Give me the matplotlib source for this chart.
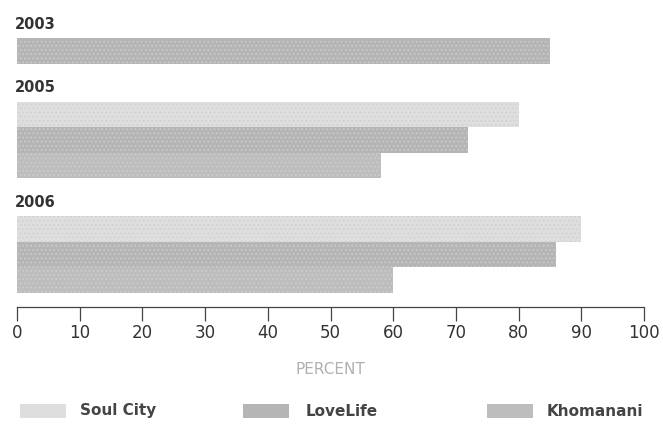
import matplotlib
matplotlib.use("Agg")
from matplotlib import pyplot as plt
from matplotlib.patches import Rectangle

# data
years = ['2003', '2005', '2006']
series = ['Soul City', 'LoveLife', 'Khomanani']
soul_city = [None, 80, 90]
love_life = [85, 72, 86]
khomanani = [None, 58, 60]
ticks = [0, 10, 20, 30, 40, 50, 60, 70, 80, 90, 100]

colors = {'Soul City': '#dedede', 'LoveLife': '#b5b5b5', 'Khomanani': '#bdbdbd'}

plt.rcParams['hatch.linewidth'] = 0.6
W, H = 663, 424
fig = plt.figure(figsize=(W / 100, H / 100), dpi=100)
ax = fig.add_axes([17 / W, 1 - 307 / H, (644 - 17) / W, 307 / H])
ax.set_xlim(0, 100)
ax.set_ylim(307, 0)

bar_h = 25.5
y = 18
values = {'Soul City': soul_city, 'LoveLife': love_life, 'Khomanani': khomanani}
for i, yr in enumerate(years):
    ax.text(-0.3, y - 1, yr, fontsize=10.5, fontweight='bold', color='#333333',
            va='top', ha='left')
    y += 20
    for s in series:
        v = values[s][i]
        if v is None:
            continue
        ax.barh(y + bar_h / 2, v, height=bar_h, color=colors[s],
                hatch='....', edgecolor='#cfcfcf', linewidth=0)
        y += bar_h
    y += 18

for sp in ['top', 'right', 'left']:
    ax.spines[sp].set_visible(False)
ax.spines['bottom'].set_color('#444444')
ax.spines['bottom'].set_linewidth(0.9)
ax.set_yticks([])
ax.set_xticks(ticks)
ax.set_xticklabels([str(t) for t in ticks], fontsize=12, color='#333333')
ax.tick_params(axis='x', direction='out', length=10, width=0.9, color='#444444', pad=2)
ax.set_xlabel('PERCENT', fontsize=11, color='#b0b0b0', labelpad=15)

# legend
leg = [('Soul City', 20, 80), ('LoveLife', 243, 306), ('Khomanani', 487, 547)]
for name, px, tx in leg:
    fig.patches.append(Rectangle((px / W, 1 - 418 / H), 46 / W, 14 / H,
                                 transform=fig.transFigure, color=colors[name],
                                 hatch='....', edgecolor='#cfcfcf', linewidth=0))
    fig.text(tx / W, 1 - 411 / H, name, fontsize=11, fontweight='bold',
             color='#444444', va='center', ha='left')

plt.savefig('out.png', dpi=100)
